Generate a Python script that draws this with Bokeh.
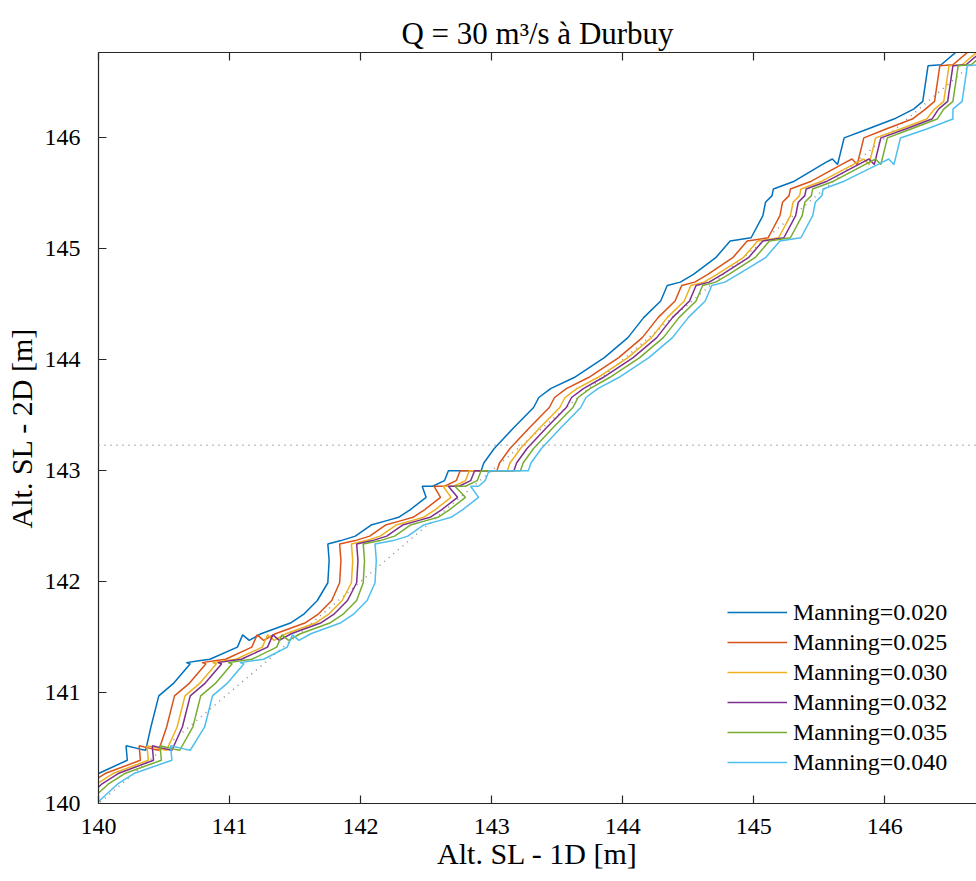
from bokeh.plotting import figure
from bokeh.models import LinearAxis, Range1d, Span, Legend, LegendItem, FixedTicker
from bokeh.embed import file_html
from bokeh.resources import INLINE

# ---- data ----
Y2D = [139.90, 140.05, 140.18, 140.27, 140.39, 140.52, 140.49, 140.48, 140.69, 140.97,
       141.08, 141.26, 141.27, 141.29, 141.30, 141.41, 141.52, 141.47, 141.53, 141.63,
       141.71, 141.83, 141.99, 142.19, 142.34, 142.37, 142.41, 142.51, 142.55, 142.58,
       142.65, 142.76, 142.86, 142.86, 142.91, 143.00, 143.00, 143.07, 143.20, 143.39,
       143.57, 143.66, 143.74, 143.84, 144.02, 144.20, 144.38, 144.53, 144.67, 144.70,
       144.77, 144.92, 145.07, 145.10, 145.30, 145.42, 145.48, 145.54, 145.61, 145.78,
       145.81, 145.76, 146.00, 146.08, 146.17, 146.26, 146.33, 146.65, 146.66, 146.76,
       146.90]

X_020 = [139.62, 139.76, 139.88, 140.00, 140.22, 140.21, 140.32, 140.36, 140.40, 140.46,
         140.57, 140.70, 140.67, 140.78, 140.85, 141.06, 141.10, 141.15, 141.24, 141.47,
         141.57, 141.67, 141.75, 141.76, 141.75, 141.85, 141.96, 142.08, 142.20, 142.29,
         142.38, 142.50, 142.47, 142.55, 142.64, 142.67, 142.92, 142.94, 143.02, 143.17,
         143.32, 143.36, 143.45, 143.63, 143.86, 144.04, 144.16, 144.29, 144.34, 144.44,
         144.54, 144.71, 144.82, 144.98, 145.07, 145.09, 145.14, 145.15, 145.31, 145.55,
         145.60, 145.64, 145.69, 145.87, 146.07, 146.22, 146.29, 146.33, 146.43, 146.53,
         146.65]

X_025 = [139.67, 139.81, 139.93, 140.05, 140.32, 140.31, 140.42, 140.46, 140.52, 140.58,
         140.69, 140.82, 140.79, 140.90, 140.97, 141.17, 141.21, 141.26, 141.35, 141.58,
         141.68, 141.78, 141.84, 141.85, 141.84, 141.96, 142.07, 142.19, 142.31, 142.40,
         142.49, 142.61, 142.56, 142.64, 142.73, 142.76, 143.04, 143.06, 143.14, 143.29,
         143.44, 143.48, 143.57, 143.74, 143.97, 144.15, 144.27, 144.40, 144.45, 144.55,
         144.65, 144.84, 144.95, 145.11, 145.20, 145.22, 145.27, 145.28, 145.44, 145.70,
         145.75, 145.79, 145.84, 146.01, 146.21, 146.31, 146.38, 146.42, 146.52, 146.62,
         146.74]

X_030 = [139.73, 139.87, 139.99, 140.11, 140.38, 140.37, 140.48, 140.52, 140.60, 140.66,
         140.77, 140.90, 140.87, 140.98, 141.05, 141.25, 141.29, 141.34, 141.43, 141.66,
         141.76, 141.86, 141.93, 141.94, 141.93, 142.04, 142.15, 142.27, 142.39, 142.48,
         142.57, 142.69, 142.63, 142.71, 142.80, 142.83, 143.12, 143.14, 143.22, 143.37,
         143.52, 143.56, 143.65, 143.81, 144.04, 144.22, 144.34, 144.47, 144.52, 144.62,
         144.72, 144.92, 145.03, 145.19, 145.28, 145.30, 145.35, 145.36, 145.52, 145.79,
         145.84, 145.88, 145.93, 146.12, 146.32, 146.38, 146.45, 146.49, 146.59, 146.69,
         146.81]

X_032 = [139.77, 139.91, 140.03, 140.15, 140.42, 140.41, 140.52, 140.56, 140.64, 140.70,
         140.81, 140.94, 140.91, 141.02, 141.09, 141.29, 141.33, 141.38, 141.47, 141.70,
         141.80, 141.90, 141.97, 141.98, 141.97, 142.09, 142.20, 142.32, 142.44, 142.53,
         142.62, 142.74, 142.67, 142.75, 142.84, 142.87, 143.17, 143.19, 143.27, 143.42,
         143.57, 143.61, 143.70, 143.85, 144.08, 144.26, 144.38, 144.51, 144.56, 144.66,
         144.76, 144.96, 145.07, 145.23, 145.32, 145.34, 145.39, 145.40, 145.56, 145.83,
         145.88, 145.92, 145.97, 146.16, 146.36, 146.41, 146.48, 146.52, 146.62, 146.72,
         146.84]

X_035 = [139.82, 139.96, 140.08, 140.20, 140.48, 140.47, 140.58, 140.62, 140.72, 140.78,
         140.89, 141.02, 140.99, 141.10, 141.17, 141.36, 141.40, 141.45, 141.54, 141.77,
         141.87, 141.97, 142.02, 142.03, 142.02, 142.15, 142.26, 142.38, 142.50, 142.59,
         142.68, 142.80, 142.72, 142.80, 142.89, 142.92, 143.22, 143.24, 143.32, 143.47,
         143.62, 143.66, 143.75, 143.90, 144.13, 144.31, 144.43, 144.56, 144.61, 144.71,
         144.81, 145.01, 145.12, 145.28, 145.37, 145.39, 145.44, 145.45, 145.61, 145.88,
         145.93, 145.97, 146.02, 146.20, 146.40, 146.45, 146.52, 146.56, 146.66, 146.76,
         146.88]

X_040 = [139.89, 140.03, 140.15, 140.27, 140.56, 140.55, 140.66, 140.70, 140.81, 140.87,
         140.98, 141.11, 141.08, 141.19, 141.26, 141.44, 141.48, 141.53, 141.62, 141.85,
         141.95, 142.05, 142.11, 142.12, 142.11, 142.25, 142.36, 142.48, 142.60, 142.69,
         142.78, 142.90, 142.84, 142.90, 142.95, 142.98, 143.28, 143.30, 143.38, 143.53,
         143.68, 143.72, 143.81, 143.97, 144.20, 144.38, 144.50, 144.63, 144.68, 144.78,
         144.88, 145.09, 145.20, 145.36, 145.45, 145.47, 145.52, 145.53, 145.69, 145.98,
         146.03, 146.07, 146.12, 146.32, 146.52, 146.52, 146.59, 146.63, 146.73, 146.83,
         146.95]

SERIES_X = [X_020, X_025, X_030, X_032, X_035, X_040]
LABELS = ["Manning=0.020", "Manning=0.025", "Manning=0.030",
          "Manning=0.032", "Manning=0.035", "Manning=0.040"]
COLORS = ["#0072BD", "#D95319", "#EDB120", "#7E2F8E", "#77AC30", "#4DBEEE"]

ONE_TO_ONE = [139.0, 148.0]
REF_LEVEL = 143.23
TICKS = [140, 141, 142, 143, 144, 145, 146]
X_RANGE = (140.0, 146.70)
Y_RANGE = (140.0, 146.77)

FONT = "Liberation Serif"
AXIS_COLOR = "#262626"

p = figure(width=976, height=881, output_backend="svg", toolbar_location=None,
           x_range=Range1d(*X_RANGE), y_range=Range1d(*Y_RANGE),
           min_border_left=98, min_border_right=0, min_border_top=52, min_border_bottom=78,
           title="Q = 30 m³/s à Durbuy")
p.outline_line_color = None
p.grid.grid_line_color = None
p.background_fill_color = "white"
p.border_fill_color = "white"

p.title.align = "center"
p.title.text_font = FONT
p.title.text_font_size = "31px"
p.title.text_font_style = "normal"
p.title.text_color = "#000000"
p.title.offset = 0
p.title.standoff = 3

# reference lines
p.line(ONE_TO_ONE, ONE_TO_ONE, line_color="#8c8c8c", line_dash="1 5", line_width=1.5)
p.add_layout(Span(location=REF_LEVEL, dimension="width", line_color="#8c8c8c",
                  line_dash="1 5", line_width=1.5))

renderers = []
for xs, c in zip(SERIES_X, COLORS):
    r = p.line(xs, Y2D, line_color=c, line_width=1.5)
    renderers.append(r)

legend = Legend(items=[LegendItem(label=l, renderers=[r]) for l, r in zip(LABELS, renderers)])
legend.location = (629, 26)
legend.margin = 0
legend.padding = 5
legend.spacing = 0
legend.glyph_width = 60
legend.glyph_height = 30
legend.label_height = 30
legend.label_standoff = 6
legend.label_text_font = FONT
legend.label_text_font_size = "24px"
legend.label_text_color = "#000000"
legend.border_line_color = None
legend.background_fill_alpha = 0.0
p.add_layout(legend, "center")

def style_axis(ax, show_labels=True):
    ax.ticker = FixedTicker(ticks=TICKS)
    ax.axis_line_color = AXIS_COLOR
    ax.axis_line_width = 1.2
    ax.major_tick_line_color = AXIS_COLOR
    ax.major_tick_line_width = 1.2
    ax.major_tick_in = 8
    ax.major_tick_out = 0
    ax.minor_tick_line_color = None
    ax.major_label_text_font = FONT
    ax.major_label_text_color = "#000000"
    if show_labels:
        ax.major_label_text_font_size = "24px"
    else:
        ax.major_label_text_font_size = "0px"
        ax.major_label_text_color = None
    ax.axis_label_text_font = FONT
    ax.axis_label_text_font_size = "30px"
    ax.axis_label_text_font_style = "normal"
    ax.axis_label_text_color = "#000000"

xa = p.xaxis[0]
style_axis(xa)
xa.axis_label = "Alt. SL - 1D [m]"
xa.major_label_standoff = 15
xa.axis_label_standoff = 0

ya = p.yaxis[0]
style_axis(ya)
ya.axis_label = "Alt. SL - 2D [m]"
ya.major_label_standoff = 18
ya.axis_label_standoff = 4

top = LinearAxis()
style_axis(top, show_labels=False)
top.axis_label = None
p.add_layout(top, "above")

open("out.html", "w").write(file_html(p, INLINE))
